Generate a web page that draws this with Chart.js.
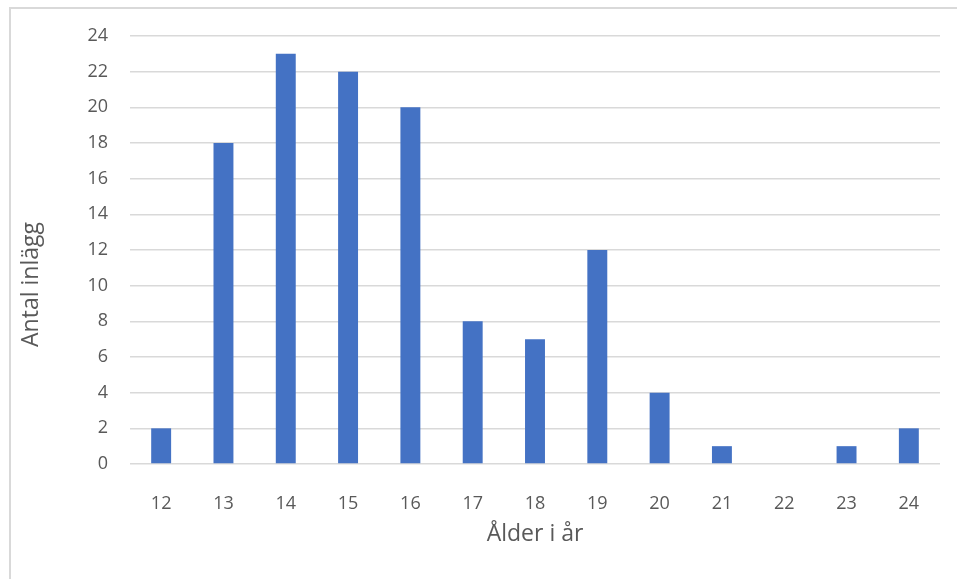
<!DOCTYPE html>
<html>
<head>
<meta charset="utf-8">
<script src="https://cdn.jsdelivr.net/npm/chart.js@4/dist/chart.umd.min.js"></script>
<style>
	body { margin:0; background:#fff; }
	#frame { position:absolute; left:9px; top:7px; width:948px; height:572px; border-left:2px solid #d9d9d9; border-top:2px solid #d9d9d9; box-sizing:border-box; }
	#wrap { position:absolute; left:0; top:0; width:957px; height:579px; }
</style>
</head>
<body>
<div id="frame"></div>
<div id="wrap"><canvas id="c"></canvas></div>
<script>
const ages = ['12','13','14','15','16','17','18','19','20','21','22','23','24']
const posts = [2, 18, 23, 22, 20, 8, 7, 12, 4, 1, 0, 1, 2]
const yTitle = 'Antal inlägg'
const xTitle = 'Ålder i år'

addEventListener('load', () => {
	const txt = '#595959'
	const fam = "'Open Sans', 'Noto Sans', sans-serif"

	new Chart(document.getElementById('c'), {
		type: 'bar',
		data: {
			labels: ages,
			datasets: [{
				data: posts,
				backgroundColor: '#4472c4',
				barPercentage: 1,
				categoryPercentage: 0.32,
			}]
		},
		options: {
			responsive: true,
			maintainAspectRatio: false,
			animation: false,
			layout: { padding: { left: 0, top: 36, right: 17, bottom: 0 } },
			plugins: { legend: { display: false }, tooltip: { enabled: false } },
			scales: {
				y: {
					min: 0, max: 24,
					afterFit: s => { s.width = 130 },
					border: { display: false },
					grid: { color: '#d9d9d9', lineWidth: 1.5, drawTicks: false },
					ticks: { stepSize: 2, color: txt, padding: 22, font: { family: fam, size: 18 } },
					// excel puts the title a bit below the middle, trailing em spaces push it down
					title: { display: true, text: yTitle + '\u2003\u2003\u2003', color: txt, padding: { top: 18 }, font: { family: fam, size: 23 } }
				},
				x: {
					afterFit: s => { s.height = 115 },
					border: { display: false },
					grid: { display: false },
					ticks: { color: txt, padding: 21, font: { family: fam, size: 18 } },
					title: { display: true, text: xTitle, color: txt, padding: { bottom: 31 }, font: { family: fam, size: 23 } }
				}
			}
		}
	})
})
</script>
</body>
</html>
